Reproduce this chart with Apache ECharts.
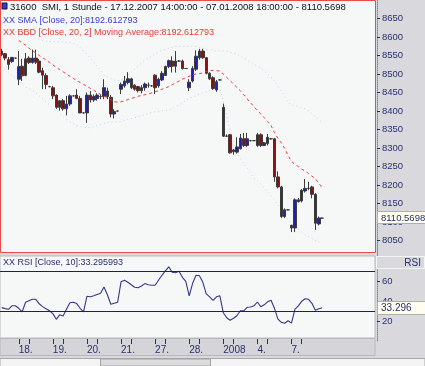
<!DOCTYPE html>
<html><head><meta charset="utf-8">
<script src="https://cdn.jsdelivr.net/npm/echarts@6/dist/echarts.min.js"></script>
<style>html,body{margin:0;padding:0;background:#ffffff}#c{width:425px;height:366px}</style>
</head><body><div id="c"></div>
<script>
// ---- data ----
const tradingDays = ['17.12.2007','18.12.2007','19.12.2007','20.12.2007','21.12.2007','27.12.2007','28.12.2007','03.01.2008','04.01.2008','07.01.2008'];
const dayTickLabels = ['', '18.', '19.', '20.', '21.', '27.', '28.', '2008', '4.', '7.'];
const sessionHours = ['09:00','10:00','11:00','12:00','13:00','14:00','15:00','16:00','17:00','18:00'];
const firstDayStartHour = '14:00';

const opens  = [8562,8555,8539,8534,8543, 8486,8521,8496,8543,8531,8543,8535,8509,8496,8466, 8463,8443,8410,8428,8406,8419,8441,8443,8434,8395,
                8395,8443,8430,8434,8439,8439,8454,8437,8392,8400, 8459,8468,8477,8487,8470,8466,8455,8463,8470,8468,
                8497,8468,8484,8496,8520,8535,8521,8535,8535,8515, 8463,8481,8513,8544,8562,8544,8502,8490,8457,8484,
                8410,8332,8336,8290,8289,8298,8325,8307,8320,8320, 8307,8336,8307,8312,8325,8325,8222,8195,8115,8133,
                8091,8084,8155,8157,8184,8191,8195,8175,8095,8110.57];
const closes = [8552,8543,8526,8545,8543, 8520,8495,8541,8531,8543,8532,8505,8497,8472,8466, 8441,8410,8428,8406,8419,8441,8441,8434,8395,8395,
                8443,8430,8439,8443,8439,8463,8439,8392,8399,8400, 8472,8481,8487,8463,8459,8455,8463,8473,8470,8468,
                8463,8486,8502,8520,8536,8521,8535,8535,8515,8515, 8478,8515,8548,8562,8544,8502,8487,8461,8479,8484,
                8332,8332,8287,8295,8303,8327,8307,8325,8320,8320, 8336,8307,8314,8329,8325,8222,8195,8115,8133,8133,
                8084,8160,8160,8186,8191,8191,8175,8097,8111,8110.57];
const lows   = [8548,8537,8512,8530,8541, 8470,8481,8494,8527,8528,8527,8502,8459,8459,8464, 8432,8406,8401,8401,8388,8414,8439,8432,8394,8393,
                8368,8423,8425,8428,8432,8432,8432,8383,8380,8399, 8446,8463,8472,8459,8455,8450,8448,8455,8463,8466,
                8446,8463,8481,8495,8516,8504,8504,8533,8512,8514, 8454,8477,8508,8539,8541,8499,8484,8457,8452,8483,
                8330,8330,8285,8282,8285,8296,8303,8303,8318,8319, 8303,8303,8305,8307,8323,8209,8191,8111,8111,8132,
                8073,8073,8153,8153,8180,8186,8164,8079,8091,8109];
const highs  = [8568,8557,8546,8546,8544, 8562,8541,8557,8548,8566,8566,8541,8517,8502,8468, 8468,8445,8428,8432,8441,8445,8443,8459,8441,8397,
                8450,8454,8445,8448,8445,8486,8463,8443,8405,8401, 8477,8495,8505,8490,8472,8468,8470,8477,8477,8470,
                8499,8490,8508,8523,8539,8548,8562,8537,8539,8516, 8486,8521,8564,8568,8568,8546,8505,8494,8484,8485,
                8420,8337,8338,8297,8329,8338,8341,8341,8322,8321, 8341,8340,8316,8338,8327,8327,8237,8198,8137,8134,
                8093,8164,8165,8189,8216,8209,8198,8178,8115,8112];

const smaValues = [null,null,null,null,null, 8591,8584,8578,8570,8563,8557,8550,8544,8538,8531, 8525,8518,8512,8506,8500,8494,8488,8483,8477,8472,
                8467,8461,8456,8450,8445,8440,8436,8431,8425,8424, 8425,8428,8431,8434,8437,8440,8442,8444,8446,8449,
                8452,8455,8459,8462,8466,8471,8476,8481,8486,8490, 8494,8498,8500,8501,8503,8507,8509,8510,8509,8508,
                8500,8491,8482,8473,8464,8455,8444,8433,8422,8412, 8401,8392,8382,8371,8361,8342,8327,8314,8299,8280,
                8264,8256,8250,8243,8238,8231,8224,8217,8205,8192.61];
const bandUpper = [8637,8631,8626,8621,8615,8610,8607,8605,8602,8599,8596, 8594,8591,8588,8588,8588,8588,8588,8586,8586,8586,
                8583,8580,8572,8562, 8554,8543,8532,8521,8511,8497,8492,8487,8484,8481, 8484,8489,8497,8505,8513,8521,8530,8538,8543,8548,
                8554,8559,8564,8567,8570,8572,8575,8575,8575,8575, 8575,8575,8575,8572,8570,8567,8567,8564,8562,8562,
                8562,8562,8559,8556,8554,8548,8543,8538,8532,8527, 8521,8516,8508,8500,8492,8481,8468,8455,8438,8422,
                8417,8414,8412,8409,8406,8401,8393,8385,8377,8369];
const bandLower = [8521,8513,8505,8497,8489,8481,8473,8465,8460,8455,8449, 8441,8433,8425,8417,8409,8401,8393,8385,8377,8371,
                8366,8361,8358,8355, 8355,8355,8358,8361,8363,8366,8369,8371,8371,8371, 8371,8374,8377,8380,8382,8385,8388,8390,8393,8396,
                8398,8398,8401,8401,8404,8406,8412,8417,8422,8428, 8433,8438,8441,8446,8449,8452,8455,8457,8460,8460,
                8428,8388,8347,8307,8288,8272,8259,8246,8232,8219, 8211,8203,8192,8181,8171,8160,8146,8133,8120,8106,
                8096,8088,8080,8074,8066,8061,8055,8050,8045,8039];
const rsiValues = [33.4,32.4,31.7,35.2,35.2, 32.7,29.2,38.7,40.2,41.7,41.7,37.2,34.4,32.2,30.2, 27.4,21.7,26.2,25.0,31.7,38.2,38.7,37.4,32.7,29.2,
                44.7,44.2,45.2,46.5,47.7,54.0,46.2,36.7,37.7,38.7, 59.2,60.7,58.7,56.2,53.7,53.2,55.0,57.4,56.2,55.7,
                55.7,60.7,65.7,70.2,74.2,68.7,68.2,69.7,63.7,59.7, 45.2,57.7,65.7,65.2,58.7,47.2,44.2,40.7,44.2,45.2,
                28.2,23.2,20.7,22.7,25.2,30.2,30.2,33.7,34.0,35.2, 39.0,34.2,36.2,39.2,40.7,32.7,22.2,18.7,17.7,20.2,
                17.9,31.7,35.2,39.7,42.2,41.7,37.7,30.7,32.2,33.296];
const priceTicks = [8050,8100,8150,8200,8250,8300,8350,8400,8450,8500,8550,8600,8650];
const rsiTicks = [20,40,60];
const rsiLevels = [30,70];
const lastPrice = 8110.5698;
const lastSma = 8192.612793;
const lastRsi = 33.295993;

// ---- build categories ----
const categories = [];
const tickIdx = {}, labelIdx = {};
tradingDays.forEach((d, di) => {
  const hrs = di === 0 ? sessionHours.slice(sessionHours.indexOf(firstDayStartHour)) : sessionHours;
  hrs.forEach((h, hi) => {
    if (di > 0 && hi === 0) { labelIdx[categories.length] = dayTickLabels[di]; tickIdx[categories.length] = 1; }
    if (di > 0 && hi === 3) { tickIdx[categories.length] = 1; }
    categories.push(d + ' ' + h);
  });
});
for (let i = 0; i < 15; i++) categories.push('');

const ohlc = opens.map((o, i) => [o, closes[i], lows[i], highs[i]]);

const FONT = 'Liberation Sans, Arial, sans-serif';
const NAVY = '#27306e';
const chart = echarts.init(document.getElementById('c'), null, {renderer: 'canvas'});

const priceTop = 17.5 - 50 * (223 / 600);
const priceH = 700 * (223 / 600);

chart.setOption({
  animation: false,
  backgroundColor: '#ffffff',
  grid: [
    {left: 0, width: 375, top: priceTop, height: priceH},
    {left: 0, width: 375, top: 241, height: 100},
    {left: 0, width: 375, top: 338, height: 1}
  ],
  xAxis: [
    {type: 'category', gridIndex: 0, data: categories, boundaryGap: true, show: false},
    {type: 'category', gridIndex: 1, data: categories, boundaryGap: true, show: false},
    {type: 'category', gridIndex: 2, data: categories, boundaryGap: true,
     axisLine: {show: false},
     axisTick: {show: true, length: 5, alignWithLabel: true, interval: (i) => !!tickIdx[i], lineStyle: {color: NAVY}},
     axisLabel: {show: true, interval: (i) => labelIdx[i] !== undefined, formatter: (v, i) => labelIdx[i] || '',
                 align: 'left', margin: 6, fontSize: 10, fontFamily: FONT, color: NAVY},
     splitLine: {show: false}}
  ],
  yAxis: [
    {type: 'value', gridIndex: 0, position: 'right', min: 8000, max: 8700, interval: 50, offset: 2,
     axisLine: {show: true, lineStyle: {color: '#7f86a8', type: 'dotted'}},
     axisTick: {show: true, length: 3, customValues: priceTicks, lineStyle: {color: NAVY}},
     axisLabel: {customValues: priceTicks, formatter: (v) => String(v), margin: 5, fontSize: 9.5, fontFamily: FONT, color: NAVY},
     splitLine: {show: false}},
    {type: 'value', gridIndex: 1, position: 'right', min: 0, max: 100, interval: 20, offset: 2,
     axisLine: {show: true, lineStyle: {color: '#7f86a8', type: 'dotted'}},
     axisTick: {show: true, length: 3, customValues: rsiTicks, lineStyle: {color: NAVY}},
     axisLabel: {customValues: rsiTicks, formatter: (v) => String(v), margin: 5, fontSize: 9.5, fontFamily: FONT, color: NAVY},
     splitLine: {show: false}},
    {type: 'value', gridIndex: 2, show: false}
  ],
  series: [
    {type: 'line', name: 'BB upper', xAxisIndex: 0, yAxisIndex: 0, data: bandUpper, symbol: 'none',
     lineStyle: {color: '#9fd3e3', width: 1, type: [1, 3], opacity: 0.8}, z: 2},
    {type: 'line', name: 'BB lower', xAxisIndex: 0, yAxisIndex: 0, data: bandLower, symbol: 'none',
     lineStyle: {color: '#9fd3e3', width: 1, type: [1, 3], opacity: 0.8}, z: 2},
    {type: 'candlestick', name: 'SMI', xAxisIndex: 0, yAxisIndex: 0, data: ohlc, barWidth: 3,
     itemStyle: {color: '#2020a8', color0: '#8a1010', borderColor: '#3c3c3c', borderColor0: '#3c3c3c', borderWidth: 1}, z: 3},
    {type: 'line', name: 'SMA', xAxisIndex: 0, yAxisIndex: 0, data: smaValues, symbol: 'none',
     lineStyle: {color: '#ee3a3a', width: 1, type: [3, 3]}, z: 4},
    {type: 'line', name: 'RSI', xAxisIndex: 1, yAxisIndex: 1, data: rsiValues, symbol: 'none',
     lineStyle: {color: '#363688', width: 1.1}, z: 4,
     markLine: {silent: true, symbol: 'none', label: {show: false},
       lineStyle: {color: '#1c1c78', width: 1, type: 'solid'},
       data: rsiLevels.map(v => ({yAxis: v}))}}
  ],
  graphic: [
    {type: 'rect', shape: {x: 0, y: 0, width: 425, height: 366}, style: {fill: '#d9d9dd'}, z: -10, silent: true},
    {type: 'rect', shape: {x: 0, y: 0, width: 375, height: 253}, style: {fill: '#f6f8f8'}, z: -9, silent: true},
    {type: 'rect', shape: {x: 0, y: 256, width: 375, height: 82}, style: {fill: '#f6f8f8', stroke: '#b8b8bc', lineWidth: 1}, z: -9, silent: true},
    {type: 'rect', shape: {x: 0, y: 338.5, width: 375, height: 17}, style: {fill: '#d5d5d9', stroke: '#b8b8bc', lineWidth: 1}, z: -9, silent: true},
    {type: 'rect', shape: {x: 0, y: 358.5, width: 425, height: 8}, style: {fill: '#f4f4f4', stroke: '#a8a8ac', lineWidth: 1}, z: -9, silent: true},
    {type: 'rect', shape: {x: 100.5, y: 359, width: 110, height: 7}, style: {fill: '#dcdcdc', stroke: '#a0a0a4', lineWidth: 1}, z: -8, silent: true},
    {type: 'rect', shape: {x: 0.5, y: 0.5, width: 375, height: 252}, style: {fill: 'none', stroke: '#ea4b4b', lineWidth: 1}, z: 50, silent: true},
    {type: 'rect', shape: {x: 2, y: 3, width: 5, height: 6}, style: {fill: '#2a44c8', stroke: '#101040', lineWidth: 1}, z: 60},
    {type: 'text', x: 10, y: 7, style: {text: '31600  SMI, 1 Stunde - 17.12.2007 14:00:00 - 07.01.2008 18:00:00 - ' + lastPrice.toFixed(4), font: '9.5px ' + FONT, fill: '#111111', verticalAlign: 'middle'}, z: 60},
    {type: 'text', x: 3, y: 21, style: {text: 'XX SMA [Close, 20]:' + lastSma.toFixed(6), font: '9px ' + FONT, fill: '#3a3ad8', verticalAlign: 'middle'}, z: 60},
    {type: 'text', x: 3, y: 33, style: {text: 'XX BBD [Close, 20, 2] Moving Average:' + lastSma.toFixed(6), font: '9px ' + FONT, fill: '#e23a3a', verticalAlign: 'middle'}, z: 60},
    {type: 'text', x: 3, y: 263, style: {text: 'XX RSI [Close, 10]:' + lastRsi.toFixed(6), font: '9px ' + FONT, fill: '#25306e', verticalAlign: 'middle'}, z: 60},
    {type: 'rect', shape: {x: 376.5, y: 256.5, width: 48, height: 12}, style: {fill: '#d9d9dd', stroke: '#f4f4f6', lineWidth: 1}, z: 60},
    {type: 'text', x: 421, y: 263, style: {text: 'RSI', font: '10px ' + FONT, fill: '#25306e', align: 'right', verticalAlign: 'middle'}, z: 61},
    {type: 'rect', shape: {x: 377.5, y: 211.5, width: 48, height: 12}, style: {fill: '#fffdf0', stroke: '#b0b0a0', lineWidth: 1}, z: 60},
    {type: 'text', x: 381, y: 218, style: {text: lastPrice.toFixed(4), font: '9.5px ' + FONT, fill: '#25306e', verticalAlign: 'middle'}, z: 61},
    {type: 'rect', shape: {x: 377.5, y: 301.5, width: 48, height: 13}, style: {fill: '#fffdf0', stroke: '#b0b0a0', lineWidth: 1}, z: 60},
    {type: 'text', x: 381, y: 308.5, style: {text: lastRsi.toFixed(3), font: '10px ' + FONT, fill: '#25306e', verticalAlign: 'middle'}, z: 61}
  ]
});
</script></body></html>
